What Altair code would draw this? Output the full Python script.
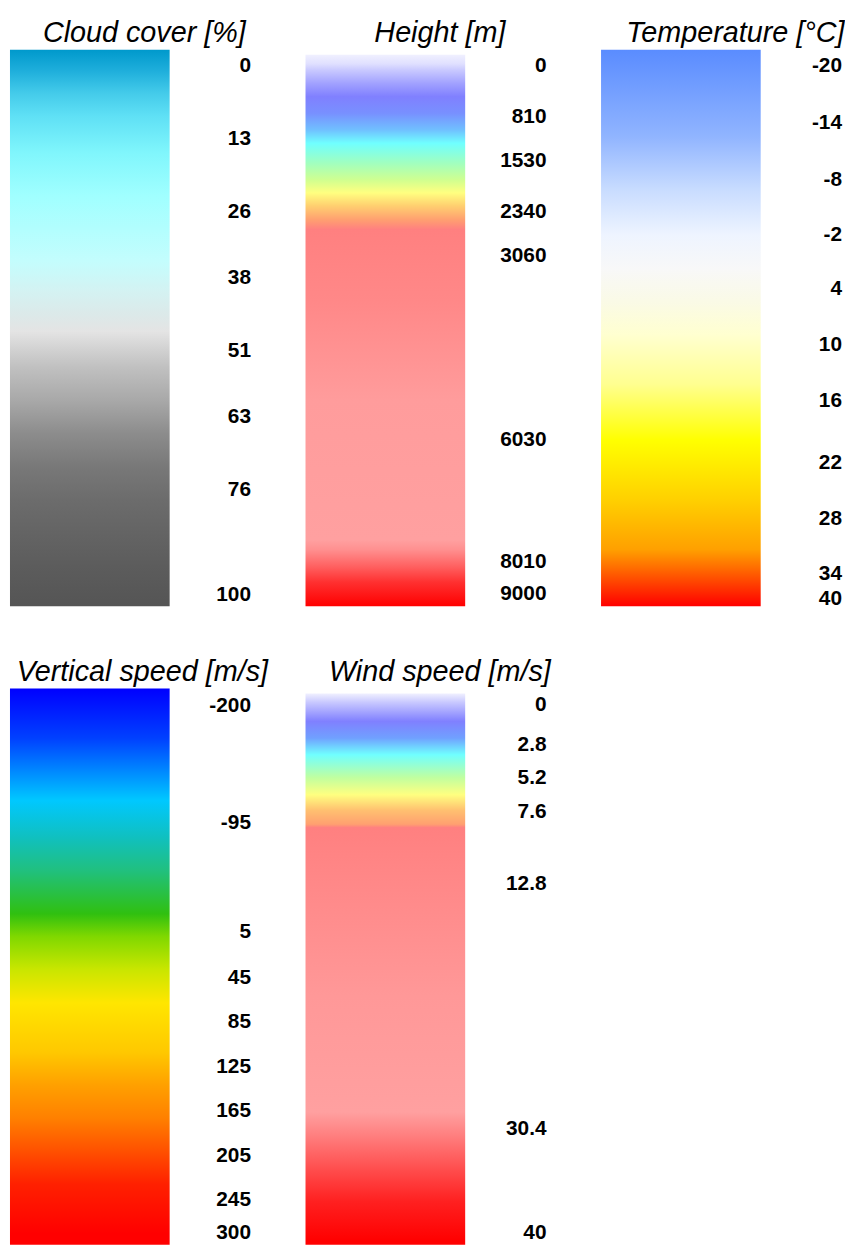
import altair as alt
import pandas as pd

# ---------------- data ----------------
# levels are fractions along each colour bar (0 = top, 1 = bottom)

# Cloud cover [%]
cloud_labels = ["0", "13", "26", "38", "51", "63", "76", "100"]
cloud_label_levels = [0.030, 0.160, 0.291, 0.410, 0.541, 0.660, 0.791, 0.980]
cloud_stop_levels = [0.0, 0.037, 0.078, 0.119, 0.185, 0.262, 0.381, 0.435, 0.476, 0.506,
                     0.541, 0.571, 0.631, 0.690, 0.750, 0.809, 0.868, 0.929, 1.0]
cloud_stop_colors = ["#0099cc", "#1eaedb", "#44cbea", "#5fe0f5", "#80f6fc", "#a0ffff",
                     "#c4fdfd", "#d4f2f2", "#dce9e9", "#e4e4e4", "#d0d0d0", "#c0c0c0",
                     "#a8a8a8", "#8c8c8c", "#787878", "#6c6c6c", "#646464", "#5c5c5c", "#555555"]
cloud_bar_top = 0.0

# Height [m]
height_labels = ["0", "810", "1530", "2340", "3060", "6030", "8010", "9000"]
height_label_levels = [0.029, 0.121, 0.200, 0.291, 0.371, 0.701, 0.921, 0.979]
height_stop_levels = [0.009, 0.025, 0.037, 0.061, 0.084, 0.114, 0.144, 0.168, 0.203,
                      0.234, 0.257, 0.280, 0.305, 0.323, 0.453, 0.631, 0.881, 0.898,
                      0.929, 0.957, 1.0]
height_stop_colors = ["#f0f0ff", "#e0e0ff", "#c8c8ff", "#a0a0ff", "#8080ff", "#7890ff",
                      "#70c0ff", "#70ffff", "#a0ffc0", "#d0ff90", "#ffff80", "#ffd070",
                      "#ffa070", "#ff8080", "#ff8888", "#ff9c9c", "#ffa0a0", "#ff9090",
                      "#ff6060", "#ff3030", "#ff0000"]
height_bar_top = 0.009

# Temperature [°C]
temp_labels = ["-20", "-14", "-8", "-2", "4", "10", "16", "22", "28", "34", "40"]
temp_label_levels = [0.030, 0.131, 0.234, 0.333, 0.430, 0.530, 0.631, 0.742, 0.844, 0.943, 0.988]
temp_stop_levels = [0.0, 0.155, 0.251, 0.333, 0.394, 0.453, 0.512, 0.601, 0.702, 0.809,
                    0.898, 0.929, 1.0]
temp_stop_colors = ["#5a8cff", "#90b4ff", "#c8dcff", "#eef4ff", "#f8f8f8", "#fafae6",
                    "#ffffd0", "#ffff90", "#ffff00", "#ffd000", "#ffa000", "#ff7000", "#ff0000"]
temp_bar_top = 0.0

# Vertical speed [m/s]
vert_labels = ["-200", "-95", "5", "45", "85", "125", "165", "205", "245", "300"]
vert_label_levels = [0.032, 0.241, 0.438, 0.520, 0.600, 0.680, 0.760, 0.840, 0.920, 0.978]
vert_stop_levels = [0.0, 0.089, 0.201, 0.267, 0.326, 0.405, 0.446, 0.504, 0.565, 0.654,
                    0.713, 0.772, 0.832, 0.891, 0.980, 1.0]
vert_stop_colors = ["#0000ff", "#0040ff", "#00c8ff", "#10c0c0", "#20c080", "#30c010",
                    "#80d800", "#c8e600", "#ffe600", "#ffc800", "#ffa000", "#ff8000",
                    "#ff5000", "#ff2000", "#ff0000", "#ff0000"]
vert_bar_top = 0.0

# Wind speed [m/s]
wind_labels = ["0", "2.8", "5.2", "7.6", "12.8", "30.4", "40"]
wind_label_levels = [0.030, 0.102, 0.161, 0.222, 0.352, 0.791, 0.978]
wind_stop_levels = [0.009, 0.025, 0.059, 0.089, 0.119, 0.160, 0.191, 0.219, 0.244, 0.250,
                    0.553, 0.761, 0.802, 0.861, 0.922, 0.993, 1.0]
wind_stop_colors = ["#f0f0ff", "#c8c8ff", "#8080ff", "#70a0ff", "#70ffff", "#c0ffa0",
                    "#ffff80", "#ffc070", "#ffa070", "#ff8080", "#ff9898", "#ffa0a0",
                    "#ff8080", "#ff5050", "#ff2020", "#ff0000", "#ff0000"]
wind_bar_top = 0.009

# ---------------- styling ----------------
PANEL_W = 243
PANEL_H = 561
BAR_W = 161
LABEL_X = 243
FONT = "Liberation Sans"


def colorbar(title, labels, label_levels, stop_levels, stop_colors, bar_top, dx=14):
    y_scale = alt.Scale(domain=[0, 1], reverse=True, nice=False, zero=False)
    span = 1.0 - bar_top
    stops = []
    for lv, c in zip(stop_levels, stop_colors):
        off = min(1.0, max(0.0, (lv - bar_top) / span))
        stops.append(alt.GradientStop(offset=round(off, 4), color=c))
    grad = alt.LinearGradient(gradient="linear", stops=stops, x1=0, x2=0, y1=0, y2=1)
    bar = alt.Chart(pd.DataFrame({"top": [bar_top], "bottom": [1.0]})).mark_rect(
        color=grad
    ).encode(
        x=alt.value(0),
        x2=alt.value(BAR_W),
        y=alt.Y("top:Q", scale=y_scale, axis=None),
        y2="bottom:Q",
    )
    txt = alt.Chart(pd.DataFrame({"level": label_levels, "label": labels})).mark_text(
        align="right", baseline="middle", font=FONT, fontSize=21, fontWeight="bold",
        color="black"
    ).encode(
        x=alt.value(LABEL_X),
        y=alt.Y("level:Q", scale=y_scale, axis=None),
        text="label:N",
    )
    return alt.layer(bar, txt).properties(
        width=PANEL_W,
        height=PANEL_H,
        title=alt.TitleParams(
            text=title, font=FONT, fontSize=29, fontStyle="italic", fontWeight="normal",
            color="black", anchor="middle", baseline="bottom", offset=-27, dx=dx,
        ),
    )


p1 = colorbar("Cloud cover [%]", cloud_labels, cloud_label_levels,
              cloud_stop_levels, cloud_stop_colors, cloud_bar_top)
p2 = colorbar("Height [m]", height_labels, height_label_levels,
              height_stop_levels, height_stop_colors, height_bar_top)
p3 = colorbar("Temperature [°C]", temp_labels, temp_label_levels,
              temp_stop_levels, temp_stop_colors, temp_bar_top)
p4 = colorbar("Vertical speed [m/s]", vert_labels, vert_label_levels,
              vert_stop_levels, vert_stop_colors, vert_bar_top, dx=12)
p5 = colorbar("Wind speed [m/s]", wind_labels, wind_label_levels,
              wind_stop_levels, wind_stop_colors, wind_bar_top)

chart = alt.concat(
    p1, p2, p3, p4, p5, columns=3, spacing={"row": 83, "column": 55}, bounds="flush"
).properties(
    padding={"left": 2, "top": 6, "right": 0, "bottom": 0},
    background="white",
).configure_view(stroke="transparent", strokeWidth=0)

chart.save("out.html", embed_options={"renderer": "svg", "actions": False})
